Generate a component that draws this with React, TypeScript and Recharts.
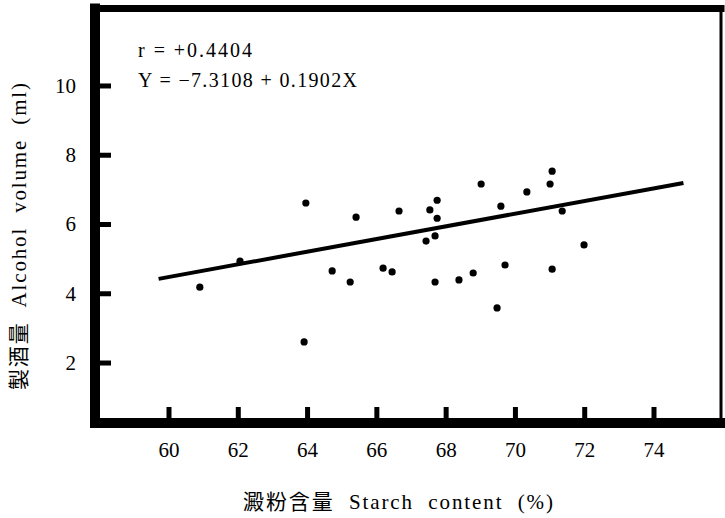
import { ScatterChart, Scatter, XAxis, YAxis, ReferenceLine } from "recharts";

// 澱粉含量 (%) vs 製酒量 (ml), one entry per sample
const starch = [
  63.95, 62.05, 60.89, 64.71, 65.23, 63.9, 65.4, 66.64, 67.53, 67.74,
  67.74, 67.68, 67.42, 69.01, 69.58, 70.33, 66.18, 66.44, 67.68, 68.37,
  68.78, 69.7, 69.47, 71.06, 71.0, 71.35, 71.98, 71.06,
];
const alcohol = [
  6.62, 4.94, 4.19, 4.66, 4.34, 2.61, 6.21, 6.39, 6.42, 6.7,
  6.18, 5.67, 5.52, 7.17, 6.53, 6.94, 4.74, 4.63, 4.34, 4.4,
  4.6, 4.83, 3.59, 7.54, 7.17, 6.39, 5.41, 4.71,
];
const xTicks = [60, 62, 64, 66, 68, 70, 72, 74];
const yTicks = [2, 4, 6, 8, 10];
// regression line as drawn in the figure
const fitLine = [
  { x: 59.7, y: 4.43 },
  { x: 74.85, y: 7.2 },
];
const statLines = ["r = +0.4404", "Y = −7.3108 + 0.1902X"];

const xDomain = [57.864, 75.934];
const yDomain = [0.268, 12.237];

const points = starch.map((x, i) => ({ x, y: alcohol[i] }));
// anchors for the inward tick stubs, sitting on the frame
const xStubs = xTicks.map((t) => ({ x: t, y: yDomain[0] }));
const yStubs = yTicks.map((t) => ({ x: xDomain[0], y: t }));

const serif = "Liberation Serif, Noto Sans CJK JP";
const frame = { stroke: "#000", strokeLinecap: "square" as const };

const renderXTick = (props: any) => {
  const { x, y, payload } = props;
  return (
    <text key={`xt-${payload.value}`} x={x} y={y + 34} textAnchor="middle" fill="#000" style={{ fontFamily: serif, fontSize: 21 }}>
      {payload.value}
    </text>
  );
};

const renderYTick = (props: any) => {
  const { x, y, payload } = props;
  return (
    <text key={`yt-${payload.value}`} x={x - 19} y={y + 7} textAnchor="end" fill="#000" style={{ fontFamily: serif, fontSize: 21 }}>
      {payload.value}
    </text>
  );
};

const XStub = (p: any) => <rect x={p.cx - 2.5} y={p.cy - 16} width={5} height={16} fill="#000" />;
const YStub = (p: any) => <rect x={p.cx} y={p.cy - 2.5} width={16} height={5} fill="#000" />;

const Notes = () => (
  <svg
    width={725}
    height={518}
    style={{ position: "absolute", left: 0, top: 0, pointerEvents: "none" }}
  >
    <g fill="#000" style={{ fontFamily: serif }}>
      <text x={138} y={57} fontSize={20} textLength={114} lengthAdjust="spacing">
        {statLines[0]}
      </text>
      <text x={138} y={87} fontSize={20} textLength={219} lengthAdjust="spacing">
        {statLines[1]}
      </text>
      <text x={243} y={509} fontSize={21} textLength={310} lengthAdjust="spacing">
        {"澱粉含量\u00a0 Starch\u00a0 content\u00a0 (%)"}
      </text>
      <text
        x={0}
        y={0}
        fontSize={21}
        textLength={307}
        lengthAdjust="spacing"
        transform="translate(26 390) rotate(-90)"
      >
        {"製酒量\u00a0 Alcohol\u00a0 volume\u00a0 (ml)"}
      </text>
    </g>
  </svg>
);

export default function App() {
  return (
    <div style={{ position: "absolute", left: 0, top: 0, width: 725, height: 518, background: "#fff" }}>
      <ScatterChart width={725} height={518} margin={{ top: 7.5, right: 3, bottom: 94, left: 94 }}>
        <XAxis
          xAxisId="b"
          type="number"
          dataKey="x"
          domain={xDomain}
          allowDataOverflow
          ticks={xTicks}
          height={1}
          tickSize={0}
          tickMargin={0}
          tickLine={false}
          tick={renderXTick}
          axisLine={{ ...frame, strokeWidth: 10 }}
        />
        <XAxis
          xAxisId="t"
          orientation="top"
          type="number"
          dataKey="x"
          domain={xDomain}
          allowDataOverflow
          height={1}
          tick={false}
          tickLine={false}
          axisLine={{ ...frame, strokeWidth: 7 }}
        />
        <YAxis
          yAxisId="l"
          type="number"
          dataKey="y"
          domain={yDomain}
          allowDataOverflow
          ticks={yTicks}
          width={1}
          tickSize={0}
          tickMargin={0}
          tickLine={false}
          tick={renderYTick}
          axisLine={{ ...frame, strokeWidth: 10 }}
        />
        <YAxis
          yAxisId="r"
          orientation="right"
          type="number"
          dataKey="y"
          domain={yDomain}
          allowDataOverflow
          width={1}
          tick={false}
          tickLine={false}
          axisLine={{ ...frame, strokeWidth: 3 }}
        />
        <ReferenceLine
          xAxisId="b"
          yAxisId="l"
          segment={fitLine}
          stroke="#000"
          strokeWidth={4}
          ifOverflow="visible"
        />
        <Scatter
          xAxisId="b"
          yAxisId="l"
          data={points}
          isAnimationActive={false}
          shape={(p: any) => <circle cx={p.cx} cy={p.cy} r={3.6} fill="#000" />}
        />
        <Scatter
          xAxisId="b"
          yAxisId="l"
          data={xStubs}
          isAnimationActive={false}
          shape={XStub}
        />
        <Scatter
          xAxisId="b"
          yAxisId="l"
          data={yStubs}
          isAnimationActive={false}
          shape={YStub}
        />
      </ScatterChart>
      <Notes />
    </div>
  );
}
